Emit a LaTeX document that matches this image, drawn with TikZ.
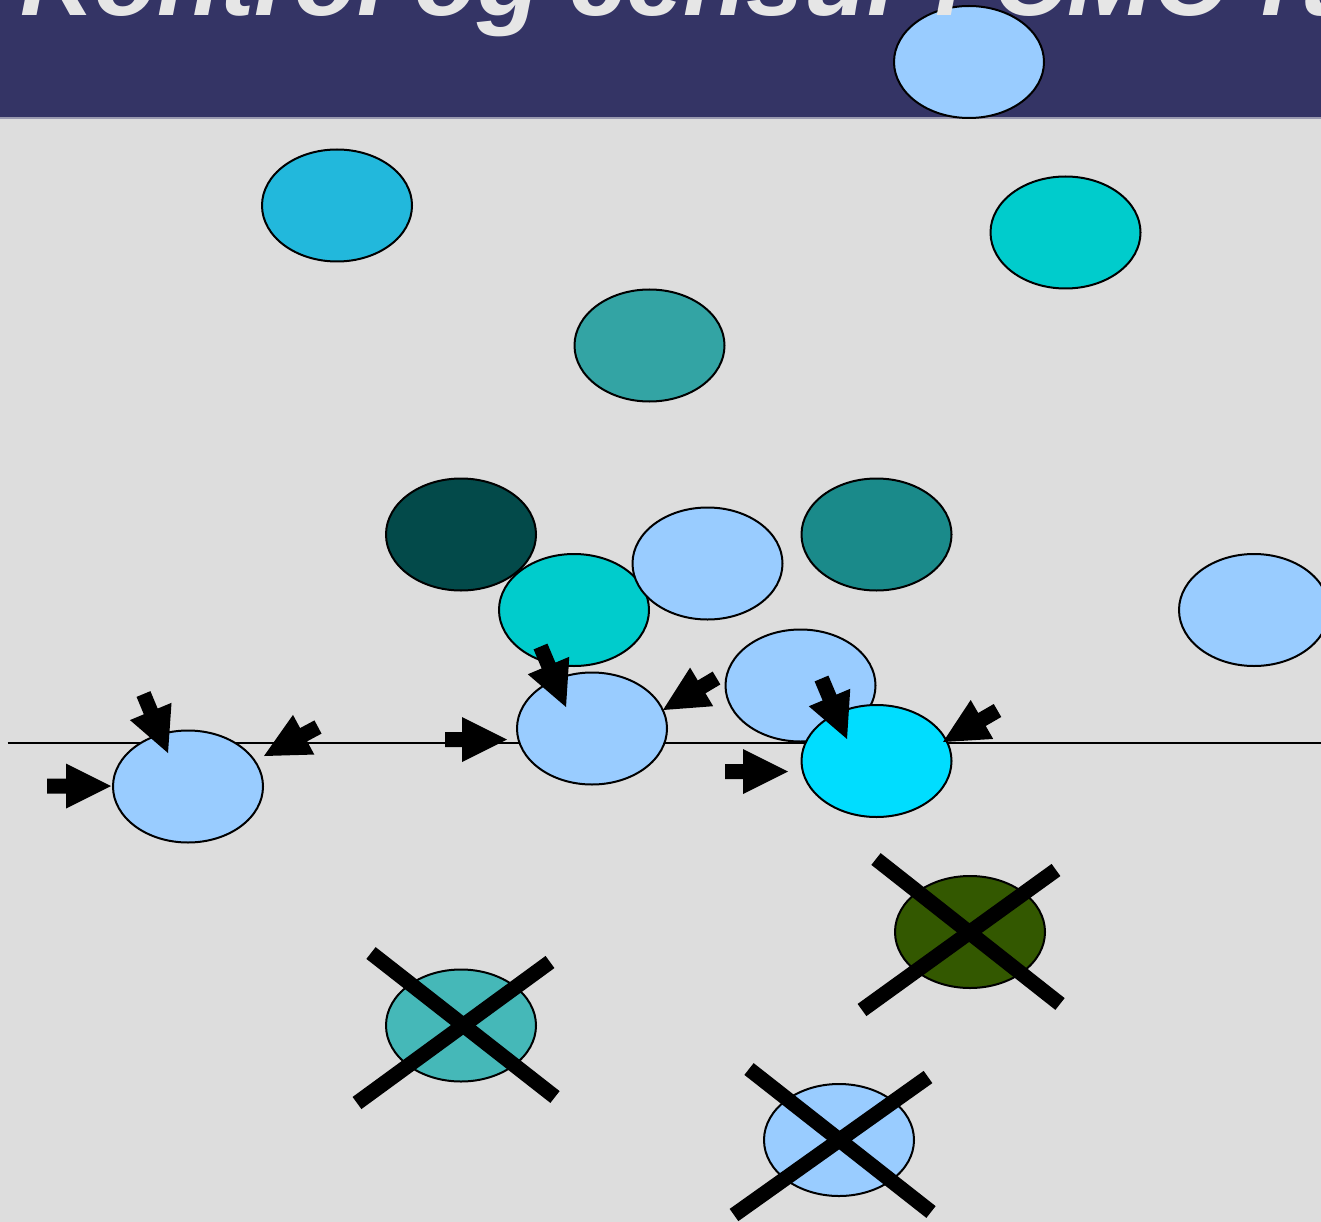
\documentclass[tikz,border=0pt]{standalone}
\usepackage{fontspec}
\setmainfont{Liberation Sans}
\usetikzlibrary{shapes.geometric,calc}
\definecolor{bg}{HTML}{DDDDDD}
\definecolor{band}{HTML}{343465}
\definecolor{bandline}{HTML}{9A9AB0}
\definecolor{titlec}{HTML}{E6E6E6}
\definecolor{lblue}{HTML}{99CCFF}
\definecolor{skyc}{HTML}{22B8DC}
\definecolor{cyanc}{HTML}{00CCCC}
\definecolor{tealc}{HTML}{33A4A4}
\definecolor{dteal}{HTML}{034A4A}
\definecolor{mteal}{HTML}{1A8A8A}
\definecolor{brightc}{HTML}{00DDFF}
\definecolor{dgreen}{HTML}{335800}
\definecolor{xteal}{HTML}{45B8B8}
\tikzset{
  ell/.style={ellipse, draw=black, line width=2pt, minimum width=150pt, minimum height=112pt, inner sep=0pt},
  xline/.style={line width=15pt, black},
  baseline/.style={line width=2pt, black}
}
\newcommand\blockarr[2]{%
  \coordinate (ta) at (#1);
  \coordinate (tb) at (#2);
  \coordinate (tm) at ($(tb)!45pt!(ta)$);
  \fill[black] ($(ta)!7.5pt!90:(tb)$) -- ($(tm)!7.5pt!-90:(ta)$) -- ($(tm)!22.5pt!-90:(ta)$) -- (tb)
     -- ($(tm)!22.5pt!90:(ta)$) -- ($(tm)!7.5pt!90:(ta)$) -- ($(ta)!7.5pt!-90:(tb)$) -- cycle;}
\begin{document}
\begin{tikzpicture}[x=1pt,y=-1pt]
\useasboundingbox (0,0) rectangle (1321,1222);
\clip (0,0) rectangle (1321,1222);
\fill[bg] (0,0) rectangle (1321,1222);
\fill[band] (0,0) rectangle (1321,117.5);
\draw[bandline, line width=1.5pt] (0,118) -- (1321,118);
% header ellipse
\node[ell, fill=lblue] (h1) at (969,62) {};
% title
\node[anchor=base west, inner sep=0pt, text=titlec, font=\bfseries\itshape\fontsize{103}{103}\selectfont] (title) at (20,16) {Kontrol og censur i CMC-rum};
% horizontal line
\coordinate (l1) at (7.5,742.5);
\coordinate (l2) at (1321,742.5);
\draw[baseline] (l1) -- (l2);
% ellipses
\node[ell, fill=skyc] (e2) at (337,205.5) {};
\node[ell, fill=cyanc] (e3) at (1065.5,232.5) {};
\node[ell, fill=tealc] (e4) at (649.5,345.5) {};
\node[ell, fill=dteal] (e5) at (461,534.5) {};
\node[ell, fill=mteal] (e6) at (876.5,534.5) {};
\node[ell, fill=cyanc] (e8) at (574,610) {};
\node[ell, fill=lblue] (e7) at (707.5,563.5) {};
\node[ell, fill=lblue] (e9) at (1254,610) {};
\node[ell, fill=lblue] (e10) at (592,728.5) {};
\node[ell, fill=lblue] (e11) at (800.5,685.5) {};
\node[ell, fill=brightc] (e12) at (876.5,761) {};
\node[ell, fill=lblue] (e13) at (188,786.5) {};
\node[ell, fill=dgreen] (e14) at (970,932) {};
\node[ell, fill=xteal] (e15) at (461,1025.5) {};
\node[ell, fill=lblue] (e16) at (839,1140) {};
% block arrows
\blockarr{47,786}{111,786}
\blockarr{143.5,694}{168,753}
\blockarr{318,727}{264,756}
\blockarr{445,739.5}{507,739.5}
\blockarr{540.5,646.5}{566,707}
\blockarr{716.5,678}{663,710}
\blockarr{725,771.5}{788,771.5}
\blockarr{821.5,678.5}{847,739}
\blockarr{997.5,710.5}{943,742}
% crosses
\coordinate (x14a) at (876,859); \coordinate (x14b) at (1060,1004);
\coordinate (x14c) at (1056,870); \coordinate (x14d) at (862,1010);
\draw[xline] (x14a) -- (x14b);
\draw[xline] (x14c) -- (x14d);
\coordinate (x15a) at (371,953); \coordinate (x15b) at (555,1097);
\coordinate (x15c) at (550,962); \coordinate (x15d) at (357,1103);
\draw[xline] (x15a) -- (x15b);
\draw[xline] (x15c) -- (x15d);
\coordinate (x16a) at (749,1069); \coordinate (x16b) at (931,1212);
\coordinate (x16c) at (928,1077); \coordinate (x16d) at (734,1215);
\draw[xline] (x16a) -- (x16b);
\draw[xline] (x16c) -- (x16d);
\end{tikzpicture}
\end{document}
